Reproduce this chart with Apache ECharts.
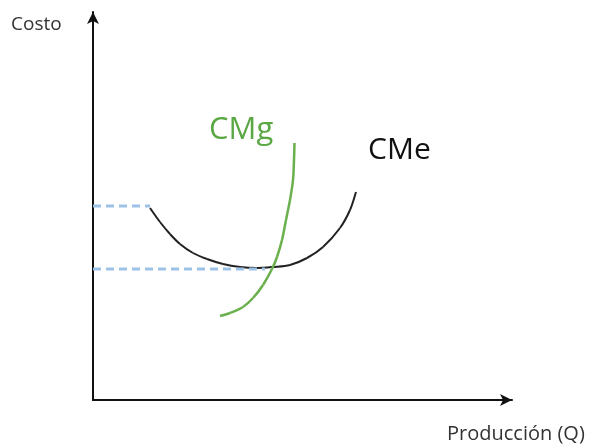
<!DOCTYPE html>
<html><head><meta charset="utf-8">
<script src="https://cdn.jsdelivr.net/npm/echarts@6/dist/echarts.min.js"></script>
<style>html,body{margin:0;padding:0;background:#fff}#c{width:594px;height:446px}</style>
</head><body><div id="c"></div>
<script>
const cmeCurve = [[57,192],[67,178],[77,166],[87,156],[100,147],[114,141],[130,136],[147,133],[164,132],[180,133],[197,135],[214,142],[230,153],[247,172],[257,190],[263,208]];
const cmgCurve = [[127,84],[137,87],[150,93],[160,102],[170,115],[179,131],[184,143],[189,160],[193,180],[197,200],[200,220],[201,240],[201.5,257]];
const upperCost = [[0,194],[57,194]];
const lowerCost = [[0,131],[172,131]];
const labels = {y:'Costo', x:'Producción (Q)', cmg:'CMg', cme:'CMe'};
const fam = '"Open Sans", "Noto Sans", sans-serif';

function smoothCurve(points, color, width) {
  return {
    type:'custom', coordinateSystem:'cartesian2d', data:points, encode:{x:0,y:1}, silent:true,
    renderItem:function(params, api){
      if (params.dataIndex !== 0) return null;
      const p = points.map(d => api.coord(d));
      const n = p.length, children = [];
      for (let i = 0; i < n - 1; i++) {
        const p0 = p[Math.max(i-1,0)], p1 = p[i], p2 = p[i+1], p3 = p[Math.min(i+2,n-1)];
        children.push({type:'bezierCurve', shape:{
          x1:p1[0], y1:p1[1], x2:p2[0], y2:p2[1],
          cpx1:p1[0]+(p2[0]-p0[0])/6, cpy1:p1[1]+(p2[1]-p0[1])/6,
          cpx2:p2[0]-(p3[0]-p1[0])/6, cpy2:p2[1]-(p3[1]-p1[1])/6},
          style:{stroke:color, lineWidth:width, fill:null}});
      }
      return {type:'group', children:children};
    }
  };
}

const chart = echarts.init(document.getElementById('c'));
chart.setOption({
  animation:false,
  grid:{left:93,top:12,right:82,bottom:46},
  xAxis:{type:'value',min:0,max:419,axisLine:{show:true,lineStyle:{color:'#111',width:2},symbol:['none','arrow'],symbolSize:[9,12]},axisTick:{show:false},axisLabel:{show:false},splitLine:{show:false}},
  yAxis:{type:'value',min:0,max:388,axisLine:{show:true,lineStyle:{color:'#111',width:2},symbol:['none','arrow'],symbolSize:[9,12]},axisTick:{show:false},axisLabel:{show:false},splitLine:{show:false}},
  graphic:[
    {type:'text',left:11,top:15,style:{text:labels.y,fontSize:19,fontFamily:fam,fill:'#333'}},
    {type:'text',left:447,top:424,style:{text:labels.x,fontSize:20,fontFamily:fam,fill:'#333'}},
    {type:'text',left:209,top:115,style:{text:labels.cmg,fontSize:31,fontFamily:fam,fill:'#5aa843'}},
    {type:'text',left:368,top:135,style:{text:labels.cme,fontSize:30,fontFamily:fam,fill:'#111'}}
  ],
  series:[
    {type:'line',data:upperCost,showSymbol:false,lineStyle:{color:'#9cc3e6',width:3,type:[8,5]}},
    {type:'line',data:lowerCost,showSymbol:false,lineStyle:{color:'#9cc3e6',width:3,type:[8,5]}},
    smoothCurve(cmeCurve,'#222',2),
    smoothCurve(cmgCurve,'#6ab04c',2.5)
  ]
});
</script></body></html>
